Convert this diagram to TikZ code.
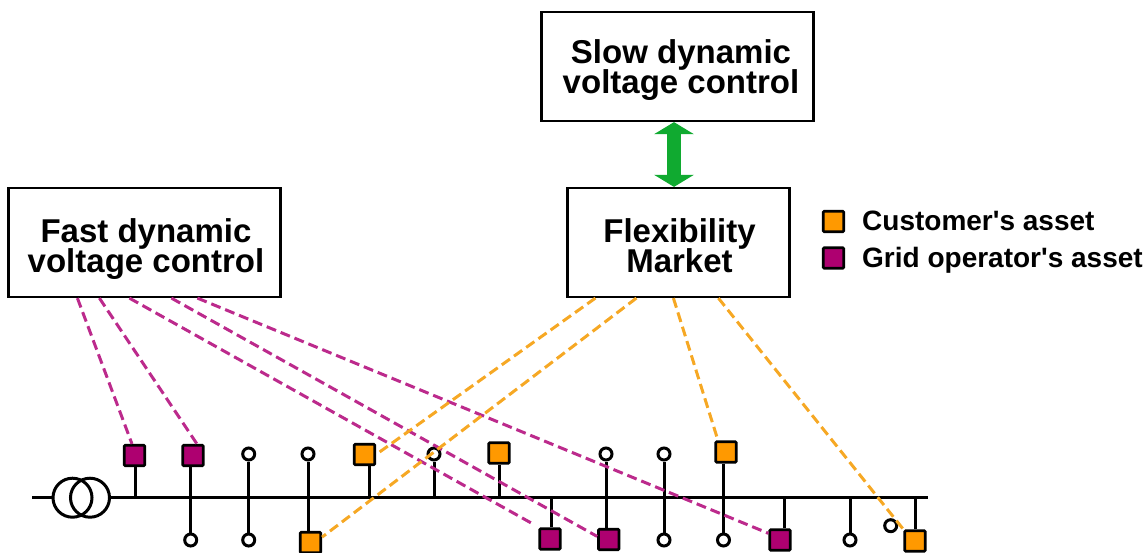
\documentclass[tikz,border=0pt]{standalone}
\usepackage{fontspec}
\setmainfont{Liberation Sans}
\usepackage{xcolor}
\usetikzlibrary{arrows.meta,positioning,calc}
\definecolor{custcol}{HTML}{FF9900}
\definecolor{gridcol}{HTML}{AE0070}
\definecolor{custline}{HTML}{F6A824}
\definecolor{gridline}{HTML}{BC2A8C}
\definecolor{flowcol}{HTML}{10AA30}
\newcommand{\ctrlfont}{\fontsize{33}{30}\selectfont\bfseries\setlength{\lineskiplimit}{-20pt}\relax}
\newcommand{\ctrltxt}[4]{\hspace*{#2}\rule{0pt}{#1}#3\\\hspace*{#2}\rule[-8pt]{0pt}{8pt}#4}

\begin{document}
\begin{tikzpicture}[
  x=1pt,y=-1pt,
  ctrl/.style={draw,line width=2.2pt,align=center,font=\ctrlfont,
               minimum height=109pt,inner sep=0pt},
  cust/.style={draw,line width=2.6pt,fill=custcol,rounded corners=1pt,minimum size=20.5pt,inner sep=0pt},
  grid/.style={draw,line width=2.6pt,fill=gridcol,rounded corners=1pt,minimum size=20.5pt,inner sep=0pt},
  load/.style={draw,circle,line width=3pt,fill=white,minimum size=12pt,inner sep=0pt},
  wind/.style={draw,circle,line width=3pt,minimum size=39pt,inner sep=0pt},
  legtxt/.style={anchor=base west,inner sep=0pt,font=\fontsize{28}{28}\selectfont\bfseries},
  bar/.style={line width=3pt},
  gdash/.style={gridline,line width=3pt,dash pattern=on 10pt off 5pt},
  cdash/.style={custline,line width=3pt,dash pattern=on 10pt off 5pt}]
\useasboundingbox (0,0) rectangle (1147,552);

% control boxes
\node[ctrl,minimum width=272pt] (slow) at (677.5,66.5) {\ctrltxt{31.6pt}{7pt}{Slow dynamic}{voltage control}};
\node[ctrl,minimum width=272pt] (fast) at (144.5,242.5) {\ctrltxt{38.4pt}{3pt}{Fast dynamic}{voltage control}};
\node[ctrl,minimum width=222pt] (flex) at (678.5,242.5) {\ctrltxt{38.4pt}{2pt}{Flexibility}{Market}};
\draw[flowcol,line width=14pt,{Triangle[length=12pt,width=39pt]}-{Triangle[length=12pt,width=39pt]}]
  ([xshift=-3.5pt]slow.south) -- ([xshift=-4.5pt]flex.north);

% legend
\node[cust] (lc) at (833.5,221.5) {};
\node[grid] (lg) at (833.5,258) {};
\node[legtxt] (ltc) at (862,230) {Customer\textquotesingle s asset};
\node[legtxt] (ltg) at (862,267) {Grid operator\textquotesingle s asset};

% bus
\coordinate (busl) at (32,497.7);
\coordinate (busr) at (928,497.7);
\node[wind] (t1) at (72.5,497.7) {};
\node[wind] (t2) at (90,497.7) {};
\draw[bar] (busl) -- (t1.west);
\draw[bar] (t2.east) -- (busr);

% upper row
\node[grid] (a1) at (134.5,455.5) {};
\node[grid] (a2) at (193,455.5) {};
\node[load] (a3) at (248.7,454) {};
\node[load] (a4) at (308,454) {};
\node[cust] (a5) at (364.5,454.5) {};
\node[load] (a6) at (434,454) {};
\node[cust] (a7) at (499,453) {};
\node[load] (a8) at (606,454) {};
\node[load] (a9) at (664,454) {};
\node[cust] (a10) at (726,452) {};

% lower row
\node[load] (b2) at (190.7,540) {};
\node[load] (b3) at (248.7,540) {};
\node[cust] (b4) at (310.5,542.5) {};
\node[grid] (b5) at (550,539) {};
\node[grid] (b6) at (608.7,539.5) {};
\node[load] (b7) at (664,540) {};
\node[load] (b8) at (723.5,540) {};
\node[grid] (b9) at (780,540) {};
\node[load] (b10) at (850,540) {};
\node[load] (b11) at (890.7,525.7) {};
\node[cust] (b12) at (915,541) {};

% stubs
\coordinate (s1) at (135.7,497.7);
\coordinate (s5) at (369,497.7);
\coordinate (s6) at (434,497.7);
\coordinate (s11) at (551,497.7);
\coordinate (s12) at (784,497.7);
\draw[bar] (a1.south -| s1) -- (s1);
\draw[bar] (a2.south -| b2.north) -- (b2.north);
\draw[bar] (a3) -- (b3);
\draw[bar] (a4) -- (a4 |- b4.north);
\draw[bar] (a5.south -| s5) -- (s5);
\draw[bar] (a6) -- (s6);
\draw[bar] (a7) -- (a7 |- busl);
\draw[bar] (a8.south) -- (a8 |- b6.north);
\draw[bar] (a9) -- (b7);
\draw[bar] (a10.south -| b8.north) -- (b8.north);
\draw[bar] (b5.north -| s11) -- (s11);
\draw[bar] (b9.north -| s12) -- (s12);
\draw[bar] (b10.north) -- (b10 |- busl);
\draw[bar] (b12.north) -- (b12 |- busl);

% grid operator links
\coordinate (e5) at (533,524);
\draw[gdash] ([xshift=70pt]fast.south west) -- ([xshift=-2.5pt]a1.north);
\draw[gdash] ([xshift=92pt]fast.south west) -- ([xshift=4pt]a2.north);
\draw[gdash] ([xshift=122pt]fast.south west) -- (e5);
\draw[gdash] ([xshift=164pt]fast.south west) -- (b6.165);
\draw[gdash] ([xshift=190pt]fast.south west) -- (b9.150);

% customer links
\draw[cdash] ([xshift=29pt]flex.south west) -- (a5.east);
\draw[cdash] ([xshift=70pt]flex.south west) -- (b4.25);
\draw[cdash] ([xshift=107pt]flex.south west) -- ([xshift=-8pt]a10.north);
\draw[cdash] ([xshift=152pt]flex.south west) -- (b12.north west);
\end{tikzpicture}
\end{document}
